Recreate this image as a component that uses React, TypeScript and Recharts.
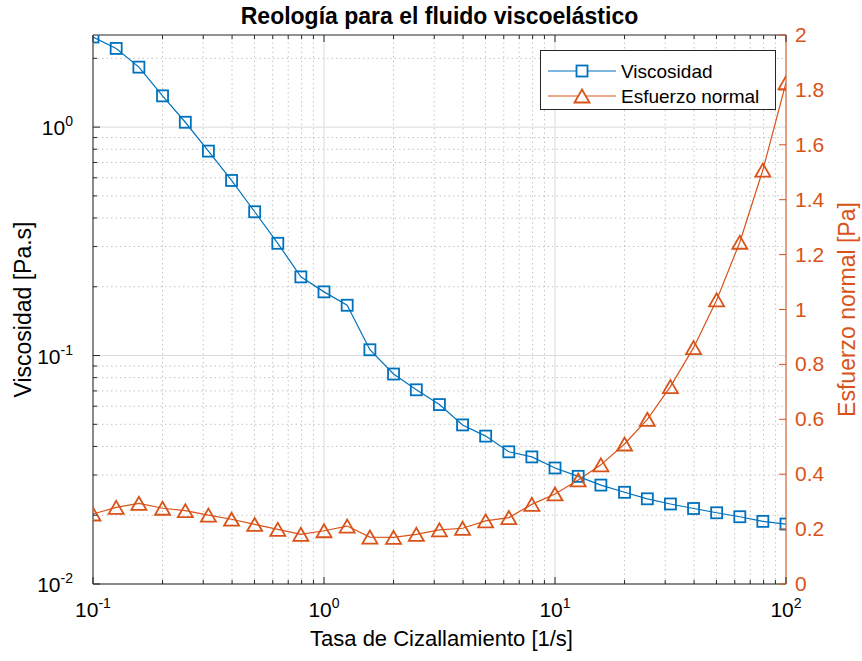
import React from 'react';
import { ComposedChart, Line, XAxis, YAxis, ReferenceLine, Legend } from 'recharts';

// shear rate [1/s], 10 points per decade
const shearRate = [
  0.1, 0.126, 0.158, 0.2, 0.251, 0.316, 0.398, 0.501, 0.631, 0.794,
  1, 1.26, 1.58, 2, 2.51, 3.16, 3.98, 5.01, 6.31, 7.94,
  10, 12.6, 15.8, 20, 25.1, 31.6, 39.8, 50.1, 63.1, 79.4, 100,
];

// viscosity [Pa.s]
const viscosity = [
  2.48, 2.21, 1.83, 1.37, 1.05, 0.785, 0.584, 0.426, 0.31, 0.221,
  0.19, 0.166, 0.106, 0.083, 0.0708, 0.061, 0.0497, 0.0444, 0.0379, 0.036,
  0.0322, 0.0296, 0.0271, 0.0252, 0.0236, 0.0224, 0.0214, 0.0205, 0.0197, 0.0188, 0.0183,
];

// normal stress [Pa]
const normalStress = [
  0.255, 0.279, 0.294, 0.276, 0.267, 0.251, 0.236, 0.217, 0.199, 0.181,
  0.194, 0.211, 0.171, 0.17, 0.181, 0.197, 0.203, 0.23, 0.242, 0.29,
  0.328, 0.379, 0.434, 0.51, 0.6, 0.719, 0.861, 1.035, 1.245, 1.508, 1.826,
];

const xTicks = [
  0.1, 0.2, 0.3, 0.4, 0.5, 0.6, 0.7, 0.8, 0.9,
  1, 2, 3, 4, 5, 6, 7, 8, 9,
  10, 20, 30, 40, 50, 60, 70, 80, 90, 100,
];
const viscTicks = [
  0.01, 0.02, 0.03, 0.04, 0.05, 0.06, 0.07, 0.08, 0.09,
  0.1, 0.2, 0.3, 0.4, 0.5, 0.6, 0.7, 0.8, 0.9,
  1, 2,
];
const stressTicks = [0, 0.2, 0.4, 0.6, 0.8, 1, 1.2, 1.4, 1.6, 1.8, 2];

const data = shearRate.map((x, i) => ({ x, visc: viscosity[i], normal: normalStress[i] }));

const W = 862;
const H = 661;
const TOP = 35;
const VISC_MAX = 2.53;

const BLUE = '#0072BD';
const ORANGE = '#D95319';
const AXIS = '#262626';
const FONT = '"Liberation Sans", Arial, Helvetica, sans-serif';
const TICK_FS = 21;
const SUP_FS = 14;

const isDecade = (v: number) => Math.abs(Math.log10(v) - Math.round(Math.log10(v))) < 1e-6;

const PowerLabel = ({ x, y, exp, anchor }: any) => (
  <text x={x} y={y} textAnchor={anchor} fontSize={TICK_FS} fontFamily={FONT} fill="#000">
    <tspan>10</tspan>
    <tspan dy={-9} fontSize={SUP_FS}>{exp}</tspan>
  </text>
);

const XTick = (props: any) => {
  const { x, y, payload } = props;
  const major = isDecade(payload.value);
  const len = major ? 7 : 4;
  return (
    <g>
      <line x1={x} y1={y} x2={x} y2={y - len} stroke={AXIS} />
      <line x1={x} y1={TOP} x2={x} y2={TOP + len} stroke={AXIS} />
      {major && <PowerLabel x={x} y={y + 33} exp={Math.round(Math.log10(payload.value))} anchor="middle" />}
    </g>
  );
};

const LeftTick = (props: any) => {
  const { x, y, payload } = props;
  const major = isDecade(payload.value);
  const len = major ? 7 : 4;
  return (
    <g>
      <line x1={x} y1={y} x2={x + len} y2={y} stroke={AXIS} />
      {major && <PowerLabel x={x - 20} y={y + 8} exp={Math.round(Math.log10(payload.value))} anchor="end" />}
    </g>
  );
};

const RightTick = (props: any) => {
  const { x, y, payload } = props;
  return (
    <g>
      <line x1={x} y1={y} x2={x - 7} y2={y} stroke={ORANGE} />
      <text x={x + 9} y={y + 7} fontSize={TICK_FS} fontFamily={FONT} fill={ORANGE}>
        {String(payload.value)}
      </text>
    </g>
  );
};

const SquareDot = (props: any) => {
  const { cx, cy, index } = props;
  if (cx == null || cy == null) return <g key={index} />;
  return <rect key={index} x={cx - 5.5} y={cy - 5.5} width={11} height={11} fill="none" stroke={BLUE} strokeWidth={1.8} />;
};

const TriangleDot = (props: any) => {
  const { cx, cy, index } = props;
  if (cx == null || cy == null) return <g key={index} />;
  const pts = `${cx},${cy - 6.5} ${cx + 7.5},${cy + 6.5} ${cx - 7.5},${cy + 6.5}`;
  return <polygon key={index} points={pts} fill="none" stroke={ORANGE} strokeWidth={1.8} />;
};

const LegendBox = () => (
  <svg width={236} height={60} style={{ display: 'block' }}>
    <rect x={0.5} y={0.5} width={235} height={59} fill="#fff" stroke={AXIS} />
    <line x1={8} y1={21} x2={76} y2={21} stroke={BLUE} strokeWidth={1.2} />
    <rect x={36.5} y={15.5} width={11} height={11} fill="#fff" stroke={BLUE} strokeWidth={1.8} />
    <text x={81} y={28} fontSize={19} fontFamily={FONT} fill="#000">Viscosidad</text>
    <line x1={8} y1={46} x2={76} y2={46} stroke={ORANGE} strokeWidth={1.2} />
    <polygon points="42,39.5 49.5,52.5 34.5,52.5" fill="#fff" stroke={ORANGE} strokeWidth={1.8} />
    <text x={81} y={53} fontSize={19} fontFamily={FONT} fill="#000">Esfuerzo normal</text>
  </svg>
);

const xMinor = xTicks.filter((v) => !isDecade(v));
const xMajor = xTicks.filter((v) => isDecade(v));
const yMinor = viscTicks.filter((v) => !isDecade(v));
const yMajor = viscTicks.filter((v) => isDecade(v));

export default function App() {
  return (
    <div style={{ position: 'absolute', left: 0, top: 0, width: W, height: H, background: '#fff', fontFamily: FONT }}>
      <div
        style={{
          position: 'absolute', left: 93, top: 5, width: 693, textAlign: 'center',
          fontSize: 23, lineHeight: '23px', fontWeight: 'bold', color: '#000',
        }}
      >
        Reología para el fluido viscoelástico
      </div>
      <ComposedChart width={W} height={H} data={data} margin={{ top: TOP, right: 0, left: 0, bottom: 0 }}>
        <XAxis
          dataKey="x"
          type="number"
          scale="log"
          domain={[0.1, 100]}
          allowDataOverflow
          ticks={xTicks}
          interval={0}
          height={77}
          tickSize={0}
          tickMargin={0}
          tick={<XTick />}
          axisLine={{ stroke: AXIS }}
          label={{
            content: ({ viewBox }: any) => (
              <text x={viewBox.x + viewBox.width / 2 + 2} y={viewBox.y + 62} textAnchor="middle" fontSize={22} fontFamily={FONT} fill="#000">
                Tasa de Cizallamiento [1/s]
              </text>
            ),
          }}
        />
        <YAxis
          yAxisId="left"
          type="number"
          scale="log"
          domain={[0.01, VISC_MAX]}
          allowDataOverflow
          ticks={viscTicks}
          interval={0}
          width={93}
          tickSize={0}
          tickMargin={0}
          tick={<LeftTick />}
          axisLine={{ stroke: AXIS }}
          label={{
            content: ({ viewBox }: any) => {
              const cy = viewBox.y + viewBox.height / 2;
              return (
                <text x={31} y={cy} transform={`rotate(-90 31 ${cy})`} textAnchor="middle" fontSize={23} fontFamily={FONT} fill="#000">
                  Viscosidad [Pa.s]
                </text>
              );
            },
          }}
        />
        <YAxis
          yAxisId="right"
          orientation="right"
          type="number"
          domain={[0, 2]}
          allowDataOverflow
          ticks={stressTicks}
          interval={0}
          width={76}
          tickSize={0}
          tickMargin={0}
          tick={<RightTick />}
          axisLine={{ stroke: ORANGE }}
          label={{
            content: ({ viewBox }: any) => {
              const cy = viewBox.y + viewBox.height / 2;
              const lx = viewBox.x + 69;
              return (
                <text x={lx} y={cy} transform={`rotate(-90 ${lx} ${cy})`} textAnchor="middle" fontSize={23} fontFamily={FONT} fill={ORANGE}>
                  Esfuerzo normal [Pa]
                </text>
              );
            },
          }}
        />

        {xMinor.map((v) => (
          <ReferenceLine key={`xm${v}`} x={v} yAxisId="left" stroke="#c4c4c4" strokeDasharray="1.5 3" />
        ))}
        {yMinor.map((v) => (
          <ReferenceLine key={`ym${v}`} y={v} yAxisId="left" stroke="#c4c4c4" strokeDasharray="1.5 3" />
        ))}
        {xMajor.map((v) => (
          <ReferenceLine key={`xM${v}`} x={v} yAxisId="left" stroke="#dadada" />
        ))}
        {yMajor.map((v) => (
          <ReferenceLine key={`yM${v}`} y={v} yAxisId="left" stroke="#dadada" />
        ))}
        <ReferenceLine y={VISC_MAX} yAxisId="left" stroke={AXIS} />

        <Line
          yAxisId="left"
          dataKey="visc"
          name="Viscosidad"
          type="linear"
          stroke={BLUE}
          strokeWidth={1.2}
          dot={<SquareDot />}
          activeDot={false}
          isAnimationActive={false}
        />
        <Line
          yAxisId="right"
          dataKey="normal"
          name="Esfuerzo normal"
          type="linear"
          stroke={ORANGE}
          strokeWidth={1.2}
          dot={<TriangleDot />}
          activeDot={false}
          isAnimationActive={false}
        />
        <Legend
          layout="vertical"
          align="center"
          verticalAlign="middle"
          content={() => <LegendBox />}
          wrapperStyle={{ left: 540, top: 50, width: 236, height: 60 }}
        />
      </ComposedChart>
    </div>
  );
}
